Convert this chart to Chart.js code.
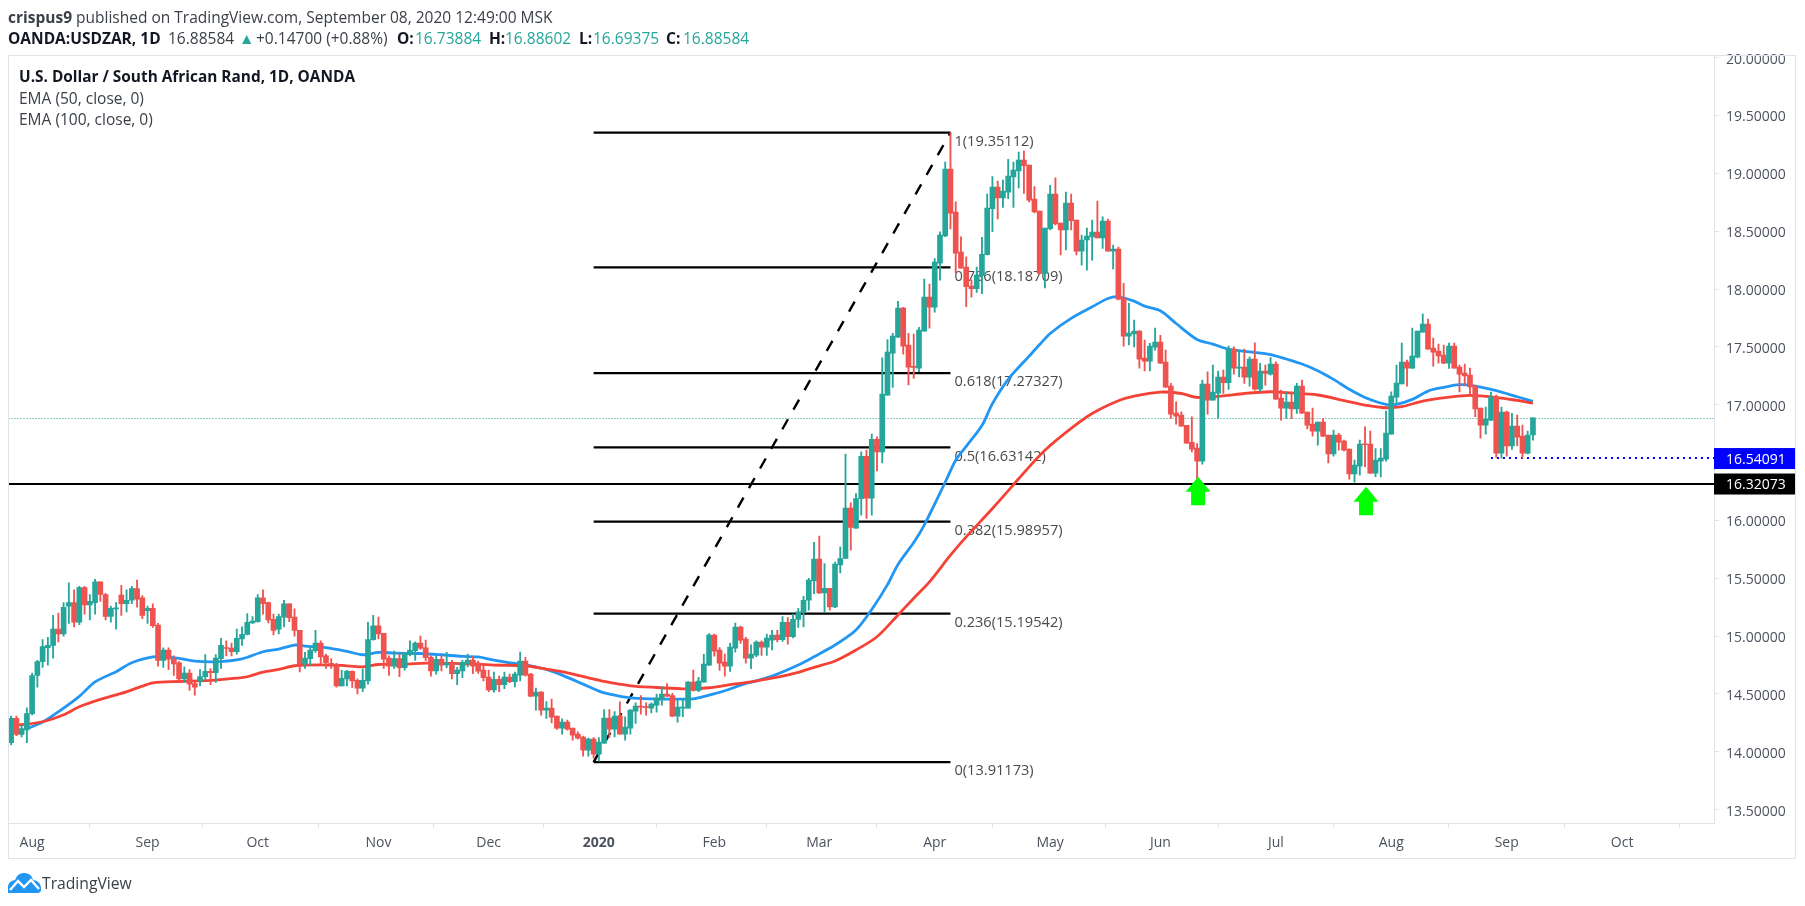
<!DOCTYPE html>
<html>
<head>
<meta charset="utf-8">
<title>USDZAR</title>
<script src="https://cdn.jsdelivr.net/npm/chart.js@4"></script>
<style>
  body { margin: 0; background: #fff; }
  #wrap { position: relative; width: 1805px; height: 906px; overflow: hidden; font-family: "Open Sans", sans-serif; color: #131722; }
  canvas { position: absolute; left: 0; top: 0; }
  .t { position: absolute; white-space: nowrap; line-height: 20px; font-size: 15.5px; }
  .b { font-weight: 700; }
  .v { color: #26a69a; }
  .g { color: #3b4048; }
</style>
</head>
<body>
<div id="wrap">
  <canvas id="chart" width="1805" height="906"></canvas>
  <div class="t g" style="left:8px;top:7px"><span class="b">crispus9</span> published on TradingView.com, September 08, 2020 12:49:00 MSK</div>
  <div class="t b" style="left:8px;top:28px">OANDA:USDZAR, 1D</div>
  <div class="t g" style="left:168px;top:28px">16.88584</div>
  <div class="t v" style="left:239px;top:28px">▲</div>
  <div class="t g" style="left:256px;top:28px">+0.14700 (+0.88%)</div>
  <div class="t b" style="left:397px;top:28px">O:</div>
  <div class="t v" style="left:415px;top:28px">16.73884</div>
  <div class="t b" style="left:489px;top:28px">H:</div>
  <div class="t v" style="left:505px;top:28px">16.88602</div>
  <div class="t b" style="left:579px;top:28px">L:</div>
  <div class="t v" style="left:593px;top:28px">16.69375</div>
  <div class="t b" style="left:666px;top:28px">C:</div>
  <div class="t v" style="left:683px;top:28px">16.88584</div>
  <div class="t b" style="left:19px;top:67px;font-size:15.4px">U.S. Dollar / South African Rand, 1D, OANDA</div>
  <div class="t g" style="left:19px;top:88px">EMA (50, close, 0)</div>
  <div class="t g" style="left:19px;top:109px">EMA (100, close, 0)</div>
  <svg style="position:absolute;left:8px;top:872px" width="33" height="21" viewBox="0 0 33 21">
    <path d="M0 21 V14 Q1 9 7 8 Q10 0 17 1 Q24 2 25 8 Q32 9 33 15 V18 Q33 21 29 21 Z" fill="#2196f3"/>
    <path d="M2 18 L10 9 L16 15 L23 8 L31 17" fill="none" stroke="#fff" stroke-width="2.4"/>
  </svg>
  <div class="t g" style="left:42px;top:873px;font-size:15.7px">TradingView</div>
</div>

<script>
// daily candles, oldest first
const opens = [
  14.08,14.29,14.15,14.19,14.33,14.66,14.78,14.90,14.92,15.06,
  15.02,15.26,15.29,15.12,15.42,15.27,15.29,15.47,15.36,15.17,
  15.236,15.355,15.28,15.31,15.41,15.33,15.22,15.24,15.095,14.79,
  14.88,14.80,14.77,14.63,14.68,14.59,14.61,14.65,14.695,14.685,
  14.805,14.897,14.897,14.865,14.975,15.015,15.115,15.125,15.33,15.29,
  15.145,15.06,15.165,15.28,15.165,15.05,14.76,14.805,14.875,14.94,
  14.83,14.765,14.755,14.57,14.63,14.695,14.617,14.55,14.614,14.97,
  15.09,15.024,14.81,14.74,14.807,14.727,14.84,14.875,14.94,14.90,
  14.816,14.70,14.80,14.752,14.767,14.675,14.70,14.764,14.793,14.767,
  14.706,14.646,14.536,14.626,14.58,14.646,14.606,14.663,14.784,14.672,
  14.482,14.516,14.36,14.378,14.309,14.205,14.257,14.205,14.153,14.127,
  14.015,14.11,13.98,14.075,14.291,14.196,14.309,14.153,14.205,14.352,
  14.392,14.392,14.378,14.404,14.456,14.499,14.487,14.309,14.378,14.378,
  14.602,14.53,14.602,14.75,15.009,14.879,14.776,14.741,14.897,15.078,
  14.974,14.81,14.836,14.948,14.905,14.966,
  15.01,14.97,15.12,14.995,15.145,15.21,15.31,15.478,
  15.665,15.374,15.414,15.253,15.616,15.671,16.106,15.933,16.189,16.555,
  16.192,16.702,16.593,17.083,17.446,17.584,17.835,17.515,17.331,17.316,
  17.636,17.93,17.844,18.224,18.458,19.037,18.666,18.32,18.19,18.026,
  18.003,18.115,18.297,18.694,18.882,18.787,18.838,18.968,19.02,19.115,
  19.072,18.778,18.674,18.135,18.521,18.821,18.57,18.51,18.743,18.596,
  18.328,18.424,18.45,18.493,18.441,18.588,18.328,18.346,17.922,17.593,
  17.611,17.637,17.403,17.377,17.498,17.541,17.368,17.161,16.927,16.91,
  16.823,16.676,16.625,16.512,17.178,17.04,17.1,17.238,17.19,17.48,
  17.316,17.325,17.238,17.394,17.135,17.29,17.264,17.351,17.057,16.971,
  17.023,16.963,17.161,16.937,16.833,16.772,16.85,16.738,16.574,16.738,
  16.686,16.617,16.401,16.47,16.66,16.66,16.409,16.513,16.53,16.746,
  17.066,17.179,17.369,17.317,17.412,17.628,17.698,17.49,17.464,17.43,
  17.36,17.507,17.326,17.274,17.257,17.161,16.971,16.824,16.867,17.066,
  16.582,16.937,16.643,16.816,16.729,16.582,16.739
];
const closes = [
  14.29,14.15,14.20,14.33,14.66,14.78,14.91,14.92,15.06,15.02,
  15.25,15.29,15.12,15.42,15.27,15.30,15.47,15.36,15.17,15.24,
  15.242,15.28,15.31,15.41,15.32,15.18,15.24,15.09,14.79,14.88,
  14.80,14.76,14.63,14.68,14.585,14.56,14.65,14.695,14.685,14.81,
  14.92,14.893,14.865,14.98,15.015,15.12,15.13,15.33,15.28,15.14,
  15.05,15.17,15.28,15.16,15.05,14.76,14.81,14.88,14.94,14.82,
  14.77,14.755,14.57,14.635,14.695,14.614,14.55,14.617,14.97,15.09,
  15.02,14.80,14.74,14.807,14.727,14.85,14.88,14.94,14.896,14.813,
  14.70,14.80,14.75,14.764,14.675,14.706,14.773,14.793,14.74,14.698,
  14.64,14.536,14.626,14.58,14.646,14.606,14.672,14.784,14.663,14.482,
  14.516,14.36,14.378,14.30,14.205,14.257,14.196,14.144,14.118,14.015,
  14.11,13.98,14.084,14.291,14.196,14.309,14.153,14.213,14.36,14.395,
  14.386,14.381,14.412,14.464,14.499,14.482,14.309,14.386,14.386,14.602,
  14.53,14.611,14.758,15.009,14.871,14.767,14.741,14.905,15.078,14.966,
  14.81,14.845,14.948,14.905,14.983,15.009,
  14.97,15.12,14.995,15.145,15.21,15.31,15.485,15.665,
  15.374,15.414,15.253,15.622,15.671,16.106,15.939,16.189,16.555,16.192,
  16.702,16.593,17.091,17.455,17.593,17.835,17.506,17.325,17.322,17.645,
  17.93,17.844,18.233,18.466,19.037,18.656,18.31,18.181,18.02,18.003,
  18.12,18.30,18.70,18.882,18.787,18.847,18.977,19.029,19.115,19.066,
  18.769,18.666,18.135,18.527,18.821,18.562,18.51,18.743,18.591,18.328,
  18.424,18.458,18.493,18.441,18.588,18.328,18.346,17.913,17.593,17.619,
  17.637,17.394,17.377,17.506,17.541,17.359,17.152,16.918,16.901,16.815,
  16.668,16.616,16.512,17.178,17.04,17.109,17.238,17.19,17.48,17.316,
  17.325,17.238,17.394,17.135,17.29,17.27,17.351,17.048,16.97,17.023,
  16.963,17.161,16.928,16.824,16.772,16.85,16.729,16.574,16.738,16.677,
  16.608,16.401,16.478,16.66,16.654,16.409,16.522,16.539,16.755,17.075,
  17.187,17.369,17.317,17.421,17.637,17.698,17.481,17.455,17.421,17.36,
  17.507,17.317,17.265,17.248,17.153,16.963,16.824,16.876,17.066,16.582,
  16.937,16.643,16.816,16.72,16.582,16.738,16.886
];
const highs = [
  14.31,14.31,14.23,14.38,14.68,14.79,14.97,14.99,15.18,15.20,
  15.29,15.46,15.40,15.43,15.43,15.36,15.49,15.47,15.37,15.26,
  15.29,15.44,15.40,15.43,15.485,15.35,15.26,15.28,15.11,14.90,
  14.90,14.83,14.78,14.735,14.71,14.605,14.71,14.84,14.72,14.84,
  14.98,14.96,14.94,15.06,15.08,15.195,15.17,15.36,15.40,15.295,
  15.19,15.19,15.31,15.28,15.235,15.05,14.86,14.91,15.05,14.96,
  14.845,14.805,14.765,14.705,14.705,14.70,14.63,14.715,15.12,15.18,
  15.165,15.024,14.83,14.87,14.845,14.86,14.96,14.95,15.0,14.966,
  14.83,14.83,14.83,14.86,14.79,14.73,14.79,14.845,14.827,14.784,
  14.75,14.706,14.69,14.655,14.69,14.672,14.69,14.862,14.816,14.678,
  14.551,14.52,14.435,14.456,14.309,14.286,14.274,14.205,14.173,14.136,
  14.118,14.124,14.124,14.366,14.366,14.349,14.433,14.303,14.366,14.424,
  14.487,14.424,14.424,14.499,14.562,14.591,14.505,14.447,14.461,14.608,
  14.706,14.643,14.842,15.023,15.018,14.902,14.845,14.937,15.113,15.087,
  14.989,14.925,14.96,14.96,15.018,15.05,
  15.05,15.17,15.16,15.19,15.24,15.345,15.50,15.81,
  15.864,15.627,15.414,15.639,15.771,16.573,16.152,16.233,16.593,16.607,
  16.746,16.723,17.406,17.564,17.616,17.893,17.841,17.616,17.61,17.668,
  18.086,18.043,18.264,18.495,19.097,19.351,18.754,18.452,18.279,18.08,
  18.19,18.447,18.82,18.971,18.934,18.942,19.121,19.098,19.184,19.193,
  19.072,18.885,18.674,18.527,18.896,18.96,18.57,18.838,18.821,18.596,
  18.467,18.527,18.596,18.761,18.625,18.605,18.38,18.363,18.049,17.876,
  17.732,17.64,17.558,17.53,17.662,17.6,17.472,17.184,17.025,16.939,
  16.823,16.895,16.665,17.212,17.285,17.342,17.29,17.299,17.506,17.5,
  17.472,17.48,17.414,17.535,17.357,17.342,17.408,17.371,17.126,17.11,
  17.11,17.184,17.213,16.937,16.971,16.85,16.882,16.738,16.781,16.752,
  16.695,16.617,16.522,16.695,16.81,16.772,16.62,16.62,16.945,17.112,
  17.343,17.533,17.386,17.663,17.637,17.784,17.741,17.576,17.525,17.516,
  17.533,17.533,17.343,17.352,17.317,17.17,16.971,16.98,17.11,17.084,
  16.98,16.945,16.925,16.91,16.824,16.772,16.886
];
const lows = [
  14.06,14.14,14.13,14.08,14.32,14.56,14.73,14.75,14.81,14.95,
  15.0,15.11,15.08,15.10,15.19,15.14,15.19,15.30,15.14,15.12,
  15.06,15.18,15.21,15.28,15.25,15.15,15.11,15.075,14.74,14.73,
  14.71,14.66,14.61,14.60,14.53,14.49,14.57,14.62,14.58,14.60,
  14.72,14.83,14.83,14.845,14.92,15.01,15.11,15.12,15.19,15.115,
  15.01,15.02,15.08,15.125,15.0,14.69,14.72,14.75,14.86,14.76,
  14.72,14.72,14.56,14.57,14.57,14.556,14.50,14.52,14.585,14.966,
  14.975,14.72,14.66,14.72,14.65,14.706,14.83,14.79,14.885,14.787,
  14.655,14.672,14.70,14.727,14.63,14.58,14.64,14.735,14.675,14.677,
  14.614,14.519,14.516,14.519,14.545,14.597,14.562,14.614,14.654,14.476,
  14.36,14.317,14.288,14.251,14.193,14.153,14.188,14.101,14.11,13.963,
  13.963,13.945,13.92,14.072,14.124,14.13,14.153,14.101,14.153,14.245,
  14.326,14.317,14.337,14.343,14.404,14.476,14.303,14.257,14.303,14.378,
  14.525,14.519,14.602,14.747,14.827,14.703,14.654,14.695,14.862,14.937,
  14.767,14.718,14.822,14.833,14.833,14.88,
  14.95,14.955,14.93,14.985,15.075,15.08,15.224,15.368,
  15.368,15.21,15.224,15.247,15.547,15.671,15.743,15.93,16.045,16.017,
  16.045,16.429,16.498,17.083,17.149,17.581,17.437,17.172,17.227,17.285,
  17.636,17.662,17.8,18.077,18.452,18.52,18.14,18.18,17.847,17.93,
  17.97,17.96,18.294,18.496,18.605,18.706,18.781,18.706,18.873,18.827,
  18.752,18.657,18.13,18.009,18.51,18.553,18.294,18.337,18.51,18.294,
  18.207,18.164,18.25,18.441,18.351,18.328,18.173,17.905,17.507,17.516,
  17.5,17.316,17.293,17.293,17.472,17.357,17.149,16.881,16.832,16.815,
  16.665,16.593,16.348,16.486,16.918,17.04,16.881,17.097,17.132,17.264,
  17.241,17.184,17.161,17.126,17.115,17.169,17.256,17.045,16.867,16.882,
  16.879,16.925,16.925,16.79,16.729,16.651,16.723,16.496,16.556,16.608,
  16.6,16.357,16.331,16.392,16.464,16.406,16.378,16.375,16.513,16.746,
  17.012,17.179,17.161,17.314,17.404,17.628,17.481,17.334,17.36,17.355,
  17.314,17.317,17.11,17.17,17.092,16.896,16.712,16.746,16.862,16.545,
  16.539,16.556,16.614,16.643,16.539,16.574,16.694
];

// EMA curves, read at these bars
const ema50Bars = [3,6,9,13,16,20,23,27,29,32,35,39,44,48,51,54,56,60,64,67,70,73,78,82,86,89,92,96,98,102,105,109,112,115,118,122,126,130,133,136,139,142,145,150,153,157,161,164,167,169,172,174,178,180,182,185,187,190,194,196,198,202,206,209,211,214,216,219,222,226,229,232,236,240,243,246,249,252,255,258,262,264,267,270,273,276,279,283,287,290];
const ema50 = [14.2,14.257,14.346,14.48,14.605,14.692,14.77,14.82,14.82,14.807,14.784,14.778,14.804,14.865,14.888,14.923,14.914,14.90,14.868,14.839,14.86,14.853,14.85,14.839,14.825,14.82,14.793,14.764,14.752,14.712,14.663,14.585,14.525,14.49,14.467,14.458,14.456,14.458,14.49,14.528,14.577,14.614,14.654,14.75,14.822,14.923,15.053,15.23,15.445,15.62,15.81,15.96,16.33,16.52,16.64,16.82,17.01,17.22,17.42,17.52,17.616,17.746,17.846,17.918,17.933,17.895,17.852,17.812,17.702,17.564,17.524,17.48,17.457,17.434,17.395,17.352,17.294,17.219,17.133,17.063,17.003,17.003,17.046,17.118,17.15,17.173,17.161,17.121,17.069,17.029];
const ema100Bars = [1,6,10,13,17,21,25,27,32,38,43,45,48,51,54,59,63,67,70,75,79,84,89,92,98,102,106,110,113,118,123,128,130,133,137,141,145,150,153,157,161,165,169,172,175,179,182,187,192,194,197,202,206,211,214,219,223,226,231,235,240,243,249,254,258,262,265,269,274,278,283,287,290];
const ema100 = [14.228,14.26,14.32,14.39,14.453,14.505,14.568,14.597,14.608,14.617,14.637,14.649,14.689,14.712,14.744,14.752,14.747,14.735,14.755,14.758,14.767,14.764,14.758,14.75,14.744,14.715,14.683,14.64,14.608,14.571,14.556,14.545,14.545,14.554,14.58,14.605,14.637,14.687,14.73,14.785,14.88,14.995,15.183,15.327,15.469,15.70,15.858,16.103,16.36,16.463,16.607,16.795,16.924,17.034,17.074,17.109,17.097,17.063,17.077,17.097,17.112,17.104,17.084,17.035,16.997,16.974,16.983,17.032,17.066,17.081,17.063,17.037,17.014];

// fibonacci tool and the marked levels
const fibRatios = ['1', '0.786', '0.618', '0.5', '0.382', '0.236', '0'];
const fibPrices = [19.35112, 18.18709, 17.27327, 16.63142, 15.98957, 15.19542, 13.91173];
const fibBars = [111, 179];
const fibLabels = fibRatios.map((r, i) => r + '(' + fibPrices[i].toFixed(5) + ')');

const lastPrice = 16.88584;
const supportPrice = 16.32073;
const dottedPrice = 16.54091;
const dottedStartBar = 282;
const arrowBars = [226, 258];
const arrowTips = [16.378, 16.291];

// time axis: bar number of each month start, and the free bars on the right
const monthBars = [4, 26, 47, 70, 91, 112, 134, 154, 176, 198, 219, 241, 263, 285, 307];
const monthNames = ['Aug', 'Sep', 'Oct', 'Nov', 'Dec', '2020', 'Feb', 'Mar', 'Apr', 'May', 'Jun', 'Jul', 'Aug', 'Sep', 'Oct'];
const barCount = 325;

const UP = '#26a69a', DOWN = '#ef5350', LINE = '#e0e3eb', TEXT = '#4c525e';

const days = Array.from({ length: barCount }, (_, i) => i);

function sparse(bars, values) {
  const out = new Array(barCount).fill(null);
  bars.forEach((b, i) => { out[b] = values[i]; });
  return out;
}

function lineSet(data, color, width, order, dash) {
  return {
    type: 'line', data, order,
    borderColor: color, borderWidth: width, borderDash: dash || [],
    pointRadius: 0, spanGaps: true, tension: 0.3
  };
}

const candleColors = opens.map((o, i) => closes[i] >= o ? UP : DOWN);

const datasets = [
  {
    type: 'bar', order: 1, grouped: false, barThickness: 5, minBarLength: 1,
    data: opens.map((o, i) => [o, closes[i]]), backgroundColor: candleColors
  },
  {
    type: 'bar', order: 2, grouped: false, barThickness: 1.2,
    data: lows.map((l, i) => [l, highs[i]]), backgroundColor: candleColors
  },
  lineSet(sparse(ema100Bars, ema100), '#f44336', 2.8, 3),
  lineSet(sparse(ema50Bars, ema50), '#2196f3', 2.8, 4),
  lineSet(sparse(fibBars, [fibPrices[6], fibPrices[0]]), '#000', 2.4, 5, [11.5, 11])
];
fibPrices.forEach(p => datasets.push(lineSet(sparse(fibBars, [p, p]), '#000', 2.2, 6)));

const drawings = {
  id: 'drawings',
  // horizontal price lines and the fib labels stay under the candles
  beforeDatasetsDraw(chart) {
    const { ctx, chartArea: a, scales: { x, y } } = chart;
    ctx.save();
    const hline = (price, from, color, width, dash) => {
      const py = width === 1 ? Math.round(y.getPixelForValue(price)) + 0.5 : Math.ceil(y.getPixelForValue(price));
      ctx.strokeStyle = color;
      ctx.lineWidth = width;
      ctx.setLineDash(dash);
      ctx.beginPath();
      ctx.moveTo(from, py);
      ctx.lineTo(a.right, py);
      ctx.stroke();
    };
    hline(lastPrice, a.left, '#1e9488', 1, [1, 2]);
    hline(supportPrice, a.left, '#000', 2, []);
    hline(dottedPrice, x.getPixelForValue(dottedStartBar), '#0000ff', 2, [2, 4]);
    ctx.setLineDash([]);
    ctx.font = '14.6px "Open Sans"';
    ctx.fillStyle = '#4a4a4a';
    ctx.textBaseline = 'middle';
    fibLabels.forEach((label, i) => {
      ctx.fillText(label, x.getPixelForValue(fibBars[1]) + 4, y.getPixelForValue(fibPrices[i]) + 9);
    });
    ctx.restore();
  },
  afterDatasetsDraw(chart) {
    const { ctx, chartArea: a, scales: { x, y } } = chart;
    ctx.save();
    ctx.fillStyle = '#00ff00';
    arrowBars.forEach((bar, i) => {
      const cx = x.getPixelForValue(bar) + 1, top = y.getPixelForValue(arrowTips[i]);
      ctx.beginPath();
      ctx.moveTo(cx, top);
      ctx.lineTo(cx + 12.5, top + 15);
      ctx.lineTo(cx + 7, top + 15);
      ctx.lineTo(cx + 7, top + 28.5);
      ctx.lineTo(cx - 7, top + 28.5);
      ctx.lineTo(cx - 7, top + 15);
      ctx.lineTo(cx - 12.5, top + 15);
      ctx.closePath();
      ctx.fill();
    });
    // value boxes on the price axis
    const box = (price, color) => {
      const py = y.getPixelForValue(price) + 0.7;
      ctx.fillStyle = color;
      ctx.fillRect(a.right, py - 10.5, 82, 21);
      ctx.fillStyle = '#fff';
      ctx.font = '14px "Open Sans"';
      ctx.textBaseline = 'middle';
      ctx.textAlign = 'left';
      ctx.fillText(price.toFixed(5), a.right + 12, py + 1);
    };
    box(dottedPrice, '#0000ff');
    box(supportPrice, '#000');
    // outer frame
    ctx.strokeStyle = LINE;
    ctx.lineWidth = 1;
    ctx.strokeRect(8.5, 55.5, 1787, 803);
    ctx.restore();
  }
};

new Chart(document.getElementById('chart'), {
  data: { labels: days, datasets },
  options: {
    responsive: false,
    animation: false,
    devicePixelRatio: 1,
    events: [],
    layout: { padding: { left: 8.5, right: 9, top: 55.3, bottom: 47 } },
    plugins: { legend: { display: false }, tooltip: { enabled: false } },
    scales: {
      x: {
        type: 'category',
        offset: true,
        grid: { drawOnChartArea: false, color: LINE, tickLength: 5 },
        border: { color: LINE },
        afterBuildTicks(scale) { scale.ticks = monthBars.map(value => ({ value })); },
        afterFit(scale) { scale.height = 36; },
        ticks: {
          autoSkip: false, maxRotation: 0, padding: 7, color: TEXT,
          font: ctx => ({ family: 'Open Sans', size: 14, weight: ctx.index === 5 ? '700' : '400' }),
          callback: (value, index) => monthNames[index]
        }
      },
      y: {
        position: 'right',
        min: 13.385,
        max: 20.02,
        grid: { drawOnChartArea: false, color: LINE, tickLength: 5 },
        border: { color: LINE },
        afterFit(scale) { scale.width = 82; },
        ticks: {
          stepSize: 0.5, includeBounds: false, padding: 7, labelOffset: 2, color: TEXT,
          font: { family: 'Open Sans', size: 14 },
          callback: value => value.toFixed(5)
        }
      }
    }
  },
  plugins: [drawings]
});
</script>
</body>
</html>
